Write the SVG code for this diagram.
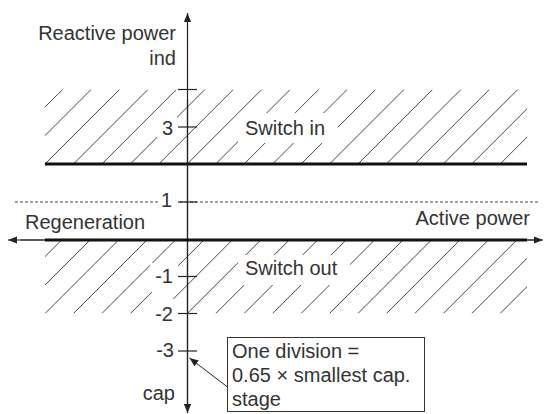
<svg xmlns="http://www.w3.org/2000/svg" width="544" height="414" viewBox="0 0 544 414">
<style>
text{font-family:"Liberation Sans",Arial,sans-serif;font-size:20px;fill:#333}
.e{text-anchor:end}
.h{stroke:#333;stroke-width:0.9;fill:none}
.thick{stroke:#111;stroke-width:3;fill:none}
.ax{stroke:#222;stroke-width:1.2;fill:none}
.tk{stroke:#222;stroke-width:1.2}
.bg{fill:#fff}
</style>
<defs>
<clipPath id="cTop"><rect x="45" y="89.5" width="482" height="74.5"/></clipPath>
<clipPath id="cBot"><rect x="45" y="240" width="482" height="73.5"/></clipPath>
<marker id="ah" viewBox="0 0 10 8" refX="10" refY="4" markerWidth="9" markerHeight="7.2" markerUnits="userSpaceOnUse" orient="auto">
<path d="M0,0L10,4L0,8z" fill="#222"/>
</marker>
</defs>

<g id="switch-in-region">
<path class="h" clip-path="url(#cTop)" d="M-11.9 164L62.6 89.5M16.55 164L91.05 89.5M45 164L119.5 89.5M73.45 164L147.95 89.5M101.9 164L176.4 89.5M130.35 164L204.85 89.5M158.8 164L233.3 89.5M187.25 164L261.75 89.5M215.7 164L290.2 89.5M244.15 164L318.65 89.5M272.6 164L347.1 89.5M301.05 164L375.55 89.5M329.5 164L404 89.5M357.95 164L432.45 89.5M386.4 164L460.9 89.5M414.85 164L489.35 89.5M443.3 164L517.8 89.5M471.75 164L546.25 89.5M500.2 164L574.7 89.5"/>
<rect class="bg" x="157" y="115" width="20" height="24"/>
<rect class="bg" x="238" y="113" width="100" height="30"/>
<line class="thick" x1="45" y1="164" x2="527" y2="164"/>
<text x="245" y="135">Switch in</text>
</g>

<g id="switch-out-region">
<path class="h" clip-path="url(#cBot)" d="M-11.9 313.5L61.6 240M16.55 313.5L90.05 240M45 313.5L118.5 240M73.45 313.5L146.95 240M101.9 313.5L175.4 240M130.35 313.5L203.85 240M158.8 313.5L232.3 240M187.25 313.5L260.75 240M215.7 313.5L289.2 240M244.15 313.5L317.65 240M272.6 313.5L346.1 240M301.05 313.5L374.55 240M329.5 313.5L403 240M357.95 313.5L431.45 240M386.4 313.5L459.9 240M414.85 313.5L488.35 240M443.3 313.5L516.8 240M471.75 313.5L545.25 240M500.2 313.5L573.7 240"/>
<rect class="bg" x="150" y="263" width="28" height="29"/>
<rect class="bg" x="150" y="299" width="28" height="16"/>
<rect class="bg" x="238" y="255" width="112" height="30"/>
<text x="245" y="275">Switch out</text>
</g>

<g id="threshold-line">
<line x1="15" y1="202" x2="540" y2="202" stroke="#444" stroke-width="1" stroke-dasharray="3 2"/>
<rect class="bg" x="158" y="190" width="20" height="22"/>
<text class="e" x="172" y="207">1</text>
</g>

<g id="connectors">
<line class="ax" x1="187.5" y1="413" x2="187.5" y2="13" marker-end="url(#ah)"/>
<line class="ax" x1="187.5" y1="100" x2="187.5" y2="413" marker-end="url(#ah)"/>
<line class="ax" x1="540" y1="240" x2="8" y2="240" marker-end="url(#ah)"/>
<line class="ax" x1="20" y1="240" x2="543" y2="240" marker-end="url(#ah)"/>
<line class="thick" x1="45" y1="240" x2="527" y2="240"/>
<line stroke="#222" stroke-width="1" x1="227.5" y1="387" x2="189.5" y2="358" marker-end="url(#ah)"/>
</g>

<g id="ticks">
<line class="tk" x1="178" y1="89.5" x2="197" y2="89.5"/>
<line class="tk" x1="178" y1="127" x2="197" y2="127"/>
<line class="tk" x1="178" y1="202" x2="197" y2="202"/>
<line class="tk" x1="178" y1="276.5" x2="197" y2="276.5"/>
<line class="tk" x1="178" y1="313.5" x2="197" y2="313.5"/>
<line class="tk" x1="178" y1="351" x2="197" y2="351"/>
<text class="e" x="173" y="135">3</text>
<text class="e" x="173" y="283">-1</text>
<text class="e" x="173" y="321">-2</text>
<text class="e" x="174" y="357">-3</text>
</g>

<g id="axis-labels">
<text class="e" x="176" y="40">Reactive power</text>
<text class="e" x="176" y="65">ind</text>
<text class="e" x="175" y="400">cap</text>
<text x="25" y="229">Regeneration</text>
<text class="e" x="530" y="225">Active power</text>
</g>

<g id="note-box">
<rect x="227.5" y="337.5" width="197" height="74" fill="#fff" stroke="#333" stroke-width="1"/>
<text x="232" y="358">One division =</text>
<text x="232" y="382">0.65 × smallest cap.</text>
<text x="232" y="406">stage</text>
</g>
</svg>
